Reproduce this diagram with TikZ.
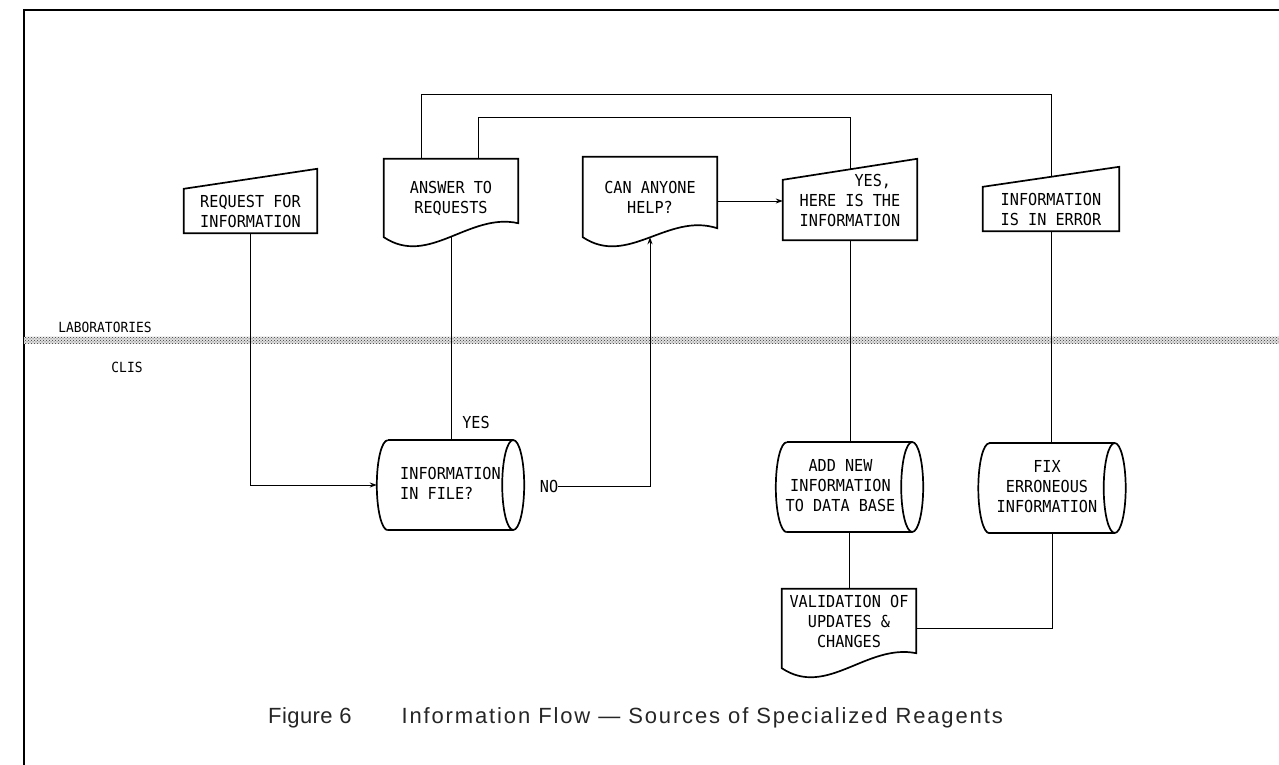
\documentclass[tikz,border=0pt]{standalone}
\usepackage{fontspec}
\setmainfont{Liberation Sans}
\newfontfamily\boxfont[FakeStretch=0.92]{DejaVu Sans Mono}
\usetikzlibrary{calc,arrows.meta,patterns}
\newcommand\lines[3]{\raisebox{#1}[\height][\depth]{\begin{tabular}{@{}#2@{}}#3\end{tabular}}}
\newcommand\docpath[2]{%
  \draw[ln] (#1.south west) -- (#1.north west) -- (#1.north east) -- ($(#1.south east)+(0,-#2)$)
    .. controls ($(#1.south west)+(85,-25)$) and ($(#1.south west)+(45,30)$) .. (#1.south west) -- cycle;}
\newcommand\manpath[2]{%
  \draw[ln] (#1.south west) -- (#1.north west) -- ($(#1.north east)+(0,-#2)$) -- (#1.south east) -- cycle;}
\newcommand\cylpath[1]{%
  \draw[ln] (#1.north west) -- (#1.north east) (#1.south west) -- (#1.south east);
  \draw[ln] (#1.south west) arc[start angle=90,end angle=270,x radius=11,y radius=45];
  \draw[ln] (#1.east) ellipse[x radius=11,y radius=45];}
\begin{document}
\begin{tikzpicture}[x=1pt,y=-1pt,
  ln/.style={line width=1.7pt},
  conn/.style={line width=1pt},
  arr/.style={conn,-{Stealth[length=7pt,width=5pt]}},
  txt/.style={font=\boxfont\fontsize{16.5}{20}\selectfont, align=center, inner sep=0pt},
  small/.style={font=\boxfont\fontsize{14}{16}\selectfont, inner sep=0pt},
  docbox/.style={txt, minimum width=134, minimum height=#1},
  manbox/.style={txt, minimum width=#1, minimum height=44},
  cylbox/.style={txt, minimum width=125, minimum height=90}]
\useasboundingbox (0,0) rectangle (1279,765);
\fill[white] (0,0) rectangle (1279,765);
% frame and band
\draw[line width=2.2pt] (24,765) -- (24,10) -- (1279,10);
\fill[black!12] (24,336.5) rectangle (1279,343.5);
\fill[pattern=crosshatch dots, pattern color=black!80] (24,336.5) rectangle (1279,343.5);
\node[small] (lab) at (105,327) {LABORATORIES};
\node[small] (clis) at (127,367) {CLIS};
% nodes
\node[manbox=133] (req) at (250.5,211) {REQUEST FOR\\INFORMATION};
\manpath{req}{20}
\node[docbox=78] (ans) at (451,198) {ANSWER TO\\REQUESTS};
\docpath{ans}{14}
\node[docbox=80] (can) at (650,197) {CAN ANYONE\\HELP?};
\docpath{can}{9}
\node[manbox=134] (yes) at (850,210) {\lines{8pt}{r}{YES,\hphantom{X}\\HERE IS THE\\INFORMATION}};
\manpath{yes}{21}
\node[manbox=136] (err) at (1051,209) {INFORMATION\\IS IN ERROR};
\manpath{err}{20}
\node[cylbox] (inf) at (450.5,485) {\lines{0pt}{l}{INFORMATION\\IN FILE?}};
\cylpath{inf}
\node[cylbox] (add) at (849.5,487) {\hspace*{-18pt}\lines{0pt}{c}{ADD NEW\\INFORMATION\\TO DATA BASE}};
\cylpath{add}
\node[cylbox] (fix) at (1052,488) {\hspace*{-10pt}\lines{0pt}{c}{FIX\\ERRONEOUS\\INFORMATION}};
\cylpath{fix}
\node[docbox=79] (val) at (849,628.5) {\lines{5.5pt}{c}{VALIDATION OF\\UPDATES \&\\CHANGES}};
\docpath{val}{15}
\node[txt] (yeslbl) at (476,422) {YES};
\node[txt] (nolbl) at (549,486) {NO};
\coordinate (infL) at ($(inf.west)+(-11,0)$);
% connectors
\draw[conn] ($(ans.north west)+(38,0)$) -- ++(0,-64) -| ($(err.north)+(0,-10)$);
\draw[conn] ($(ans.north west)+(95,0)$) -- ++(0,-41) -| ($(yes.north)+(0,-10.5)$);
\draw[arr] (req.south) |- (infL);
\draw[conn] (ans.south) -- (ans.south |- inf.north);
\draw[arr] (nolbl.east) -| (can.south);
\draw[arr] ($(can.east)+(0,4)$) -- ($(yes.west)+(0,-9)$);
\draw[conn] (yes.south) -- (yes.south |- add.north);
\draw[conn] (err.south) -- (err.south |- fix.north);
\draw[conn] (add.south) -- (add.south |- val.north);
\draw[conn] (fix.south) |- (val.east);
% caption
\node[font=\fontsize{22}{26}\selectfont, text=black!85, anchor=west, inner sep=0pt] (cap) at (268,718)
  {{\addfontfeatures{LetterSpace=2}Figure 6}\hspace{50pt}{\addfontfeatures{LetterSpace=8.5}Information Flow — Sources of Specialized Reagents}};
\end{tikzpicture}
\end{document}
